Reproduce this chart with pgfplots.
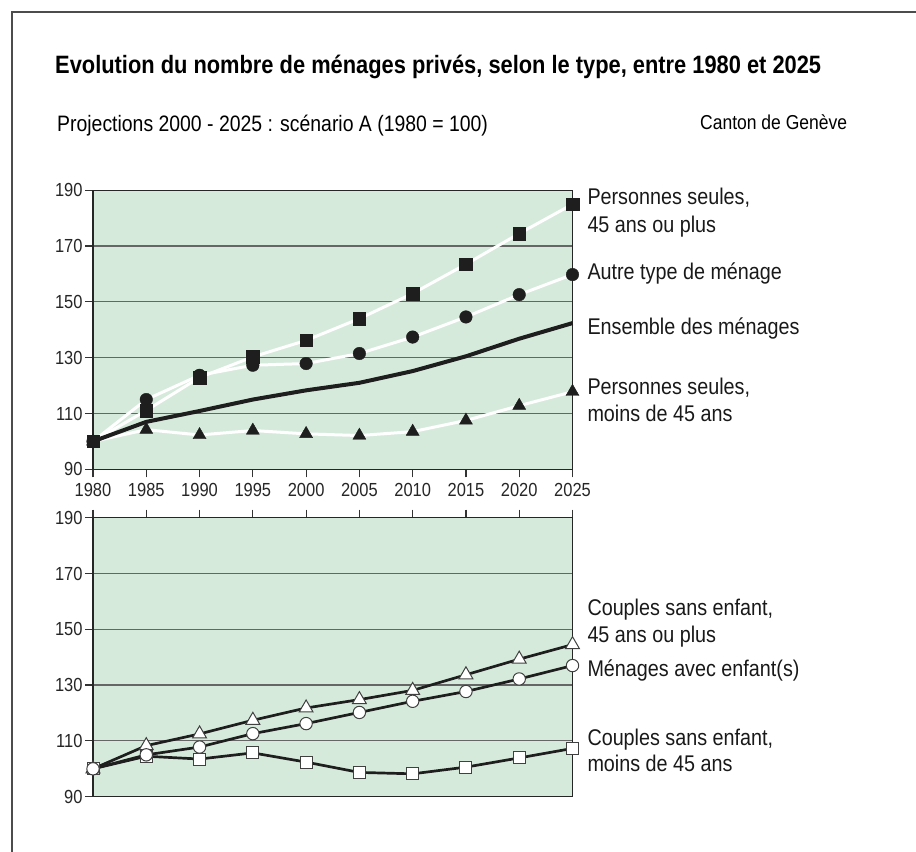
\documentclass[border=0pt]{standalone}
\usepackage{fontspec}
\setmainfont{Liberation Sans}[FakeStretch=0.87]
\usepackage{pgfplots}
\pgfplotsset{compat=1.18}
\usepackage{pgfplotstable}
\usetikzlibrary{plotmarks}
\definecolor{bg}{RGB}{214,234,220}
\definecolor{ink}{RGB}{30,30,30}

\pgfplotstableread{
year sq ci tr en
1980 100 100 100 100
1985 111.1 115 104.2 107
1990 122.9 123.7 102.3 110.9
1995 130.3 127.3 103.9 115
2000 136.2 127.9 102.7 118.3
2005 144 131.5 102.1 121
2010 153 137.4 103.5 125.2
2015 163.5 144.6 107.5 130.5
2020 174.5 152.6 112.8 136.8
2025 185 159.8 117.8 142.4
}\toptable

\pgfplotstableread{
year tr ci sq
1980 100 100 100
1985 108.3 105 104.5
1990 112.5 107.8 103.5
1995 117.4 112.6 105.7
2000 121.8 116.2 102.4
2005 124.8 120.2 98.7
2010 128.1 124.2 98.2
2015 133.7 127.7 100.6
2020 139.3 132.2 103.9
2025 144.5 137 107.3
}\bottable

\pgfplotsset{
  panel/.style={
    scale only axis,
    width=479.5bp, height=279bp,
    xmin=1980, xmax=2025, ymin=90, ymax=190,
    xtick={1980,1985,...,2025},
    ytick={90,110,...,190},
    axis background/.style={fill=bg},
    ymajorgrids,
    grid style={draw=black!60, line width=1.2bp},
    axis line style={draw=black!85, line width=1.5bp},
    tick style={draw=black!80, line width=1.2bp},
    tick align=outside,
    major tick length=8bp,
    ytick pos=left,
    clip=false,
    /pgf/number format/assume math mode=true,
    /pgf/number format/1000 sep={},
    ticklabel style={font=\fontsize{19}{22}\selectfont, text=black!85},
    y tick label style={xshift=1bp},
  }
}

\begin{document}
\begin{tikzpicture}
\useasboundingbox (0bp,0bp) rectangle (916bp,852bp);
\draw[black!70, line width=1.3bp] (12bp,-2bp) -- (12bp,840bp) -- (918bp,840bp);

% top panel
\begin{axis}[panel, at={(93bp,382.7bp)}, anchor=south west, xtick pos=left,
  x tick label style={yshift=-2bp}]
\addplot[white, line width=3bp, mark=none] table[x=year, y=tr] {\toptable};
\addplot[white, line width=3bp, mark=none] table[x=year, y=ci] {\toptable};
\addplot[white, line width=3bp, mark=none] table[x=year, y=sq] {\toptable};
\addplot[ink, line width=4bp, mark=none] table[x=year, y=en] {\toptable};
\addplot[only marks, mark=triangle*, mark size=7.5bp, mark options={fill=ink, draw=ink}] table[x=year, y=tr] {\toptable};
\addplot[only marks, mark=*, mark size=6.3bp, mark options={fill=ink, draw=ink}] table[x=year, y=ci] {\toptable};
\addplot[only marks, mark=square*, mark size=6.3bp, mark options={fill=ink, draw=ink}] table[x=year, y=sq] {\toptable};
\end{axis}

% bottom panel
\begin{axis}[panel, at={(93bp,55.3bp)}, anchor=south west, xtick pos=right, xticklabels={}]
\addplot[ink, line width=2.7bp, mark=none] table[x=year, y=sq] {\bottable};
\addplot[ink, line width=2.7bp, mark=none] table[x=year, y=ci] {\bottable};
\addplot[ink, line width=2.7bp, mark=none] table[x=year, y=tr] {\bottable};
\addplot[only marks, mark=square*, mark size=6bp, mark options={fill=white, draw=black!75, line width=1bp}] table[x=year, y=sq] {\bottable};
\addplot[only marks, mark=triangle*, mark size=8bp, mark options={fill=white, draw=black!75, line width=1bp}] table[x=year, y=tr] {\bottable};
\addplot[only marks, mark=*, mark size=6.2bp, mark options={fill=white, draw=black!75, line width=1bp}] table[x=year, y=ci] {\bottable};
\end{axis}

% texts
\begin{scope}[x=1bp, y=1bp]
\node[anchor=base west, inner sep=0, font=\bfseries\fontsize{25.2}{29}\selectfont] at (55,778) {Evolution du nombre de ménages privés, selon le type, entre 1980 et 2025};
\node[anchor=base west, inner sep=0, font=\fontsize{22.4}{26}\selectfont] at (57,720.3) {Projections 2000 - 2025 : scénario A (1980 = 100)};
\node[anchor=base west, inner sep=0, font=\fontsize{20.2}{24}\selectfont] at (700,722) {Canton de Genève};
\end{scope}
\begin{scope}[x=1bp, y=1bp, every node/.style={anchor=base west, inner sep=0, font=\fontsize{22.8}{26}\selectfont, text=black!90}]
\node at (587.3,647) {Personnes seules,};
\node at (587.3,619.3) {45 ans ou plus};
\node at (587.3,572) {Autre type de ménage};
\node at (587.3,517) {Ensemble des ménages};
\node at (587.3,457) {Personnes seules,};
\node at (587.3,430.3) {moins de 45 ans};
\node at (587.3,237) {Couples sans enfant,};
\node at (587.3,209.3) {45 ans ou plus};
\node at (587.3,175.3) {Ménages avec enfant(s)};
\node at (587.3,107) {Couples sans enfant,};
\node at (587.3,80.3) {moins de 45 ans};
\end{scope}
\end{tikzpicture}
\end{document}
